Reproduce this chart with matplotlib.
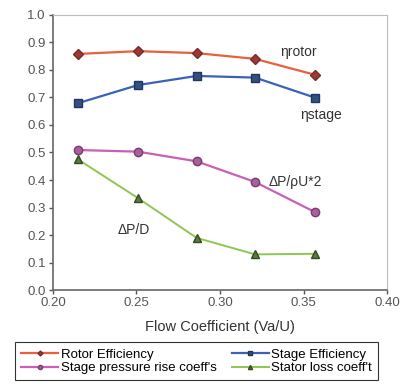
import numpy as np
import matplotlib
matplotlib.use("Agg")
import matplotlib.pyplot as plt

plt.rcParams['font.family'] = ['Liberation Sans', 'DejaVu Sans']

# data
flow = [0.215, 0.251, 0.286, 0.321, 0.357]
rotor_eff = [0.858, 0.868, 0.861, 0.840, 0.782]
stage_eff = [0.679, 0.745, 0.778, 0.772, 0.699]
press_rise = [0.509, 0.503, 0.468, 0.393, 0.283]
stator_loss = [0.475, 0.334, 0.190, 0.130, 0.132]

xticks = [0.20, 0.25, 0.30, 0.35, 0.40]
yticks = np.round(np.arange(0, 1.01, 0.1), 1)

fig = plt.figure(figsize=(4.1, 3.9), dpi=100)
ax = fig.add_axes([0.129, 0.256, 0.815, 0.706])

l1, = ax.plot(flow, rotor_eff, color='#E8603C', lw=1.6, marker='D', ms=5,
              mfc='#9A3A34', mec='#7A2A2A', label='Rotor Efficiency')
l2, = ax.plot(flow, stage_eff, color='#3A62B8', lw=1.6, marker='s', ms=5.5,
              mfc='#33507F', mec='#22355F', label='Stage Efficiency')
l3, = ax.plot(flow, press_rise, color='#C860B8', lw=1.6, marker='o', ms=6,
              mfc='#A8609A', mec='#7A3A70', label='Stage pressure rise coeff\'s')
l4, = ax.plot(flow, stator_loss, color='#8CC850', lw=1.4, marker='^', ms=6,
              mfc='#5A7A40', mec='#344A22', label='Stator loss coeff\'t')

ax.set_xlim(0.20, 0.40)
ax.set_ylim(0.0, 1.0)
ax.set_xticks(xticks)
ax.set_yticks(yticks)
ax.set_xticklabels([f'{t:.2f}' for t in xticks])
ax.set_yticklabels([f'{t:.1f}' for t in yticks])
ax.tick_params(labelsize=9.5, colors='#555555', length=3, width=1, pad=2)
for s in ['left', 'bottom']:
    ax.spines[s].set_color('#666666')
    ax.spines[s].set_linewidth(1.2)
for s in ['top', 'right']:
    ax.spines[s].set_color('#bbbbbb')

ax.set_xlabel('Flow Coefficient (Va/U)', fontsize=10.5, color='#333333', labelpad=8)

ax.text(0.336, 0.865, 'ηrotor', fontsize=10, color='#333333', va='center')
ax.text(0.348, 0.636, 'ηstage', fontsize=10, color='#333333', va='center')
ax.text(0.329, 0.393, 'ΔP/ρU*2', fontsize=10, color='#333333', va='center')
ax.text(0.239, 0.218, 'ΔP/D', fontsize=10, color='#333333', va='center')

# row-wise order like the reference
leg = fig.legend([l1, l3, l2, l4], [l.get_label() for l in [l1, l3, l2, l4]],
                 loc='upper left', bbox_to_anchor=(0.037, 0.0, 0.885, 0.122),
                 mode='expand', ncol=2,
                 fontsize=9.5, frameon=True, fancybox=False, edgecolor='black',
                 markerscale=0.5, handlelength=2.8, columnspacing=0.6,
                 borderpad=0.45, labelspacing=0.1, handletextpad=0.2,
                 borderaxespad=0)
leg.get_frame().set_linewidth(0.8)

fig.savefig('out.png', dpi=100)
